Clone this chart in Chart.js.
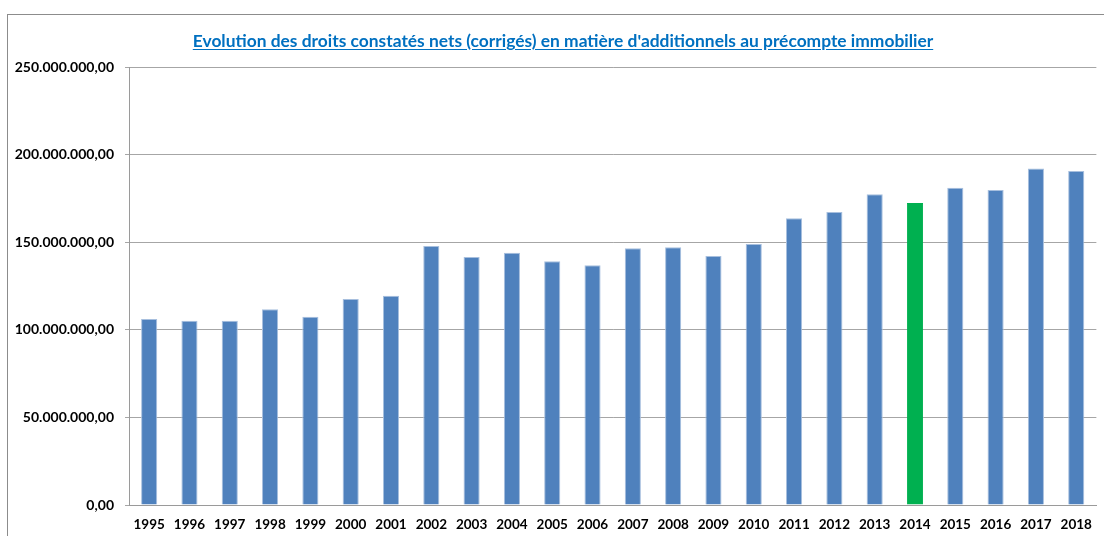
<!DOCTYPE html>
<html lang="fr">
<head>
    <meta charset="utf-8">
    <title>Evolution des droits constatés nets</title>
    <script src="https://cdn.jsdelivr.net/npm/chart.js@4.4.8/dist/chart.umd.min.js"></script>
    <style>
        html, body { margin: 0; padding: 0; background: #fff; overflow: hidden; }
        #wrap { position: relative; width: 1104px; height: 536px; }
        #frame { position: absolute; left: 7px; top: 14px; width: 1200px; height: 600px; border: 1px solid #8c8c8c; box-sizing: border-box; }
        #title {
            position: absolute; left: 0; top: 30px; width: 1126px; text-align: center;
            font-family: Lato, "Open Sans", sans-serif; font-weight: bold; font-size: 17.4px;
            color: #0070C0; text-decoration: underline; text-underline-offset: 2px;
        }
        #chartBox { position: absolute; left: 0; top: 0; width: 1104px; height: 536px; }
    </style>
</head>
<body>
    <div id="wrap">
        <div id="frame"></div>
        <div id="chartBox"><canvas id="barChart"></canvas></div>
        <div id="title">Evolution des droits constatés nets (corrigés) en matière d'additionnels au précompte immobilier</div>
    </div>

    <script>
        // données
        const years = ['1995', '1996', '1997', '1998', '1999', '2000', '2001', '2002', '2003', '2004', '2005', '2006',
                       '2007', '2008', '2009', '2010', '2011', '2012', '2013', '2014', '2015', '2016', '2017', '2018'];
        const droits = [106200000, 105200000, 105100000, 111700000, 107500000, 117600000, 119500000, 147800000,
                        141600000, 144000000, 139100000, 136800000, 146500000, 147100000, 142100000, 149000000,
                        163600000, 167200000, 177300000, 172400000, 181100000, 179800000, 192000000, 190600000];
        const highlightYear = '2014';

        const barColors = years.map(y => y === highlightYear ? '#00B050' : '#4F81BD');
        const edgeColors = years.map(y => y === highlightYear ? '#00B050' : '#A7BFDE');

        // format belge : 250.000.000,00
        function formatEuro(v) {
            const parts = Math.round(v).toString().replace(/\B(?=(\d{3})+(?!\d))/g, '.');
            return parts + ',00';
        }

        const yFont = { family: 'Lato, "Open Sans", sans-serif', size: 14, weight: 'bold' };
        const xFont = { family: 'Lato, "Open Sans", sans-serif', size: 13.5, weight: 'bold' };

        const ctx = document.getElementById('barChart').getContext('2d');
        new Chart(ctx, {
            type: 'bar',
            data: {
                labels: years,
                datasets: [{
                    label: 'Droits constatés nets',
                    data: droits,
                    backgroundColor: barColors,
                    borderColor: edgeColors,
                    borderWidth: 1,
                    barPercentage: 0.4,
                    categoryPercentage: 1.0
                }]
            },
            options: {
                responsive: true,
                maintainAspectRatio: false,
                animation: false,
                events: [],
                layout: { padding: { left: 0, right: 6, top: 67, bottom: 0 } },
                plugins: {
                    legend: { display: false },
                    tooltip: { enabled: false },
                    title: { display: false }
                },
                scales: {
                    x: {
                        grid: { display: false, drawTicks: false },
                        border: { display: true, color: '#9a9a9a', width: 1 },
                        ticks: { color: '#000', font: xFont, padding: 12, maxRotation: 0, autoSkip: false },
                        afterFit: s => { s.height = 31; }
                    },
                    y: {
                        min: 0,
                        max: 250000000,
                        grid: { color: '#a6a6a6', lineWidth: 1, tickLength: 4, drawTicks: true },
                        border: { display: true, color: '#9a9a9a', width: 1 },
                        ticks: {
                            stepSize: 50000000,
                            color: '#000',
                            font: yFont,
                            padding: 11,
                            callback: v => formatEuro(v)
                        },
                        afterFit: s => { s.width = 129; }
                    }
                }
            }
        });
    </script>
</body>
</html>
